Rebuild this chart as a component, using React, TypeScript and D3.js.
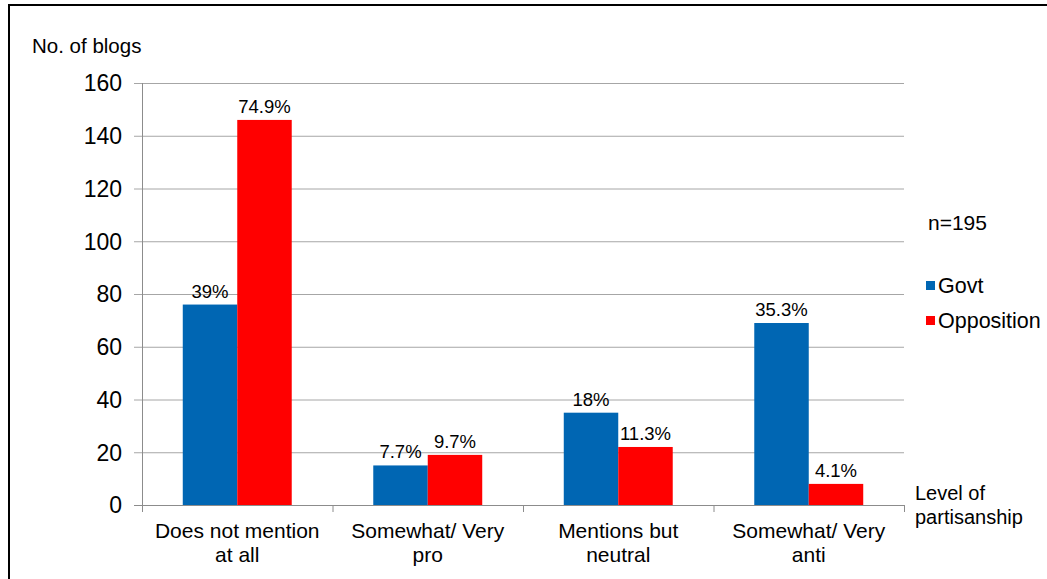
import React from "react";
import * as d3 from "d3";

const categories = [["Does not mention", "at all"], ["Somewhat/ Very", "pro"], ["Mentions but", "neutral"], ["Somewhat/ Very", "anti"]];
const seriesNames = ["Govt", "Opposition"];
const govtValues = [76, 15, 35, 69];
const oppositionValues = [146, 19, 22, 8];
const govtLabels = ["39%", "7.7%", "18%", "35.3%"];
const oppositionLabels = ["74.9%", "9.7%", "11.3%", "4.1%"];
const yTicks = [0, 20, 40, 60, 80, 100, 120, 140, 160];
const colors = ["#0066B3", "#FF0000"];

const W = 1047, H = 579;
const FONT = "'Liberation Sans', Arial, sans-serif";

export default function App() {
  const left = 142, right = 904, top = 83, bottom = 505;
  const y = d3.scaleLinear().domain([0, 160]).range([bottom, top]);
  const x0 = d3.scaleBand().domain(categories.map((_, i) => String(i))).range([left, right]).paddingInner(0).paddingOuter(0);
  const gw = x0.bandwidth();
  const barW = gw * 0.286;
  const x1 = d3.scaleBand().domain(["0", "1"]).range([gw / 2 - barW, gw / 2 + barW]);
  const series = [govtValues, oppositionValues];
  const labels = [govtLabels, oppositionLabels];

  return (
    <svg width={W} height={H} style={{ position: "absolute", left: 0, top: 0 }} fontFamily={FONT}>
      <rect x={0} y={0} width={W} height={H} fill="#fff" />
      <rect x={9} y={5} width={W + 10} height={H + 10} fill="none" stroke="#000" strokeWidth={2} />
      <text x={32} y={53} fontSize={20.5} fill="#000">No. of blogs</text>
      {yTicks.map(t => (
        <g key={t}>
          <line x1={134} x2={right} y1={y(t) + 0.5} y2={y(t) + 0.5} stroke={t === 0 ? "#8c8c8c" : "#a6a6a6"} strokeWidth={1} />
          <text x={122} y={y(t)} dy="0.36em" textAnchor="end" fontSize={23} fill="#000">{t}</text>
        </g>
      ))}
      <line x1={left + 0.5} x2={left + 0.5} y1={top} y2={bottom + 7} stroke="#8c8c8c" />
      {categories.map((_, i) => (
        <line key={i} x1={x0(String(i))! + gw + 0.5} x2={x0(String(i))! + gw + 0.5} y1={bottom} y2={bottom + 7} stroke="#8c8c8c" />
      ))}
      {categories.map((c, i) => (
        <g key={i} transform={`translate(${x0(String(i))},0)`}>
          {series.map((s, k) => (
            <rect key={k} x={x1(String(k))} y={y(s[i])} width={x1.bandwidth()} height={bottom - y(s[i])} fill={colors[k]} />
          ))}
          {series.map((s, k) => (
            <text key={"l" + k} x={x1(String(k))! + x1.bandwidth() / 2} y={y(s[i]) - 7} textAnchor="middle" fontSize={18.5} fill="#000">{labels[k][i]}</text>
          ))}
          <text x={gw / 2} y={538} textAnchor="middle" fontSize={21} fill="#000">{c[0]}</text>
          <text x={gw / 2} y={562} textAnchor="middle" fontSize={21} fill="#000">{c[1]}</text>
        </g>
      ))}
      <text x={928} y={230} fontSize={21} fill="#000">n=195</text>
      {seriesNames.map((n, k) => (
        <g key={n}>
          <rect x={926} y={281 + k * 35} width={9} height={9} fill={colors[k]} />
          <text x={938} y={293 + k * 35} fontSize={21.5} fill="#000">{n}</text>
        </g>
      ))}
      <text x={915} y={500} fontSize={20} fill="#000">Level of</text>
      <text x={915} y={524} fontSize={20} fill="#000">partisanship</text>
    </svg>
  );
}
